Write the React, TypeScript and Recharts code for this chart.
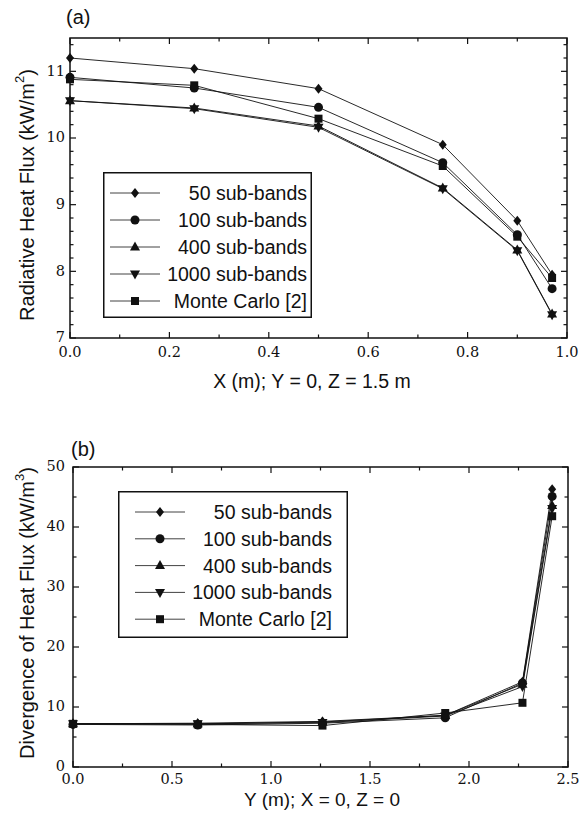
import { LineChart, Line, XAxis, YAxis, ReferenceArea, Legend } from "recharts";

// (a) radiative heat flux along X
const xA = [0, 0.25, 0.5, 0.75, 0.9, 0.97];
const fluxSb50 = [11.2, 11.04, 10.74, 9.9, 8.76, 7.95];
const fluxSb100 = [10.91, 10.75, 10.46, 9.63, 8.55, 7.74];
const fluxSb400 = [10.56, 10.45, 10.18, 9.25, 8.32, 7.36];
const fluxSb1000 = [10.56, 10.44, 10.16, 9.24, 8.31, 7.35];
const fluxMC = [10.88, 10.79, 10.29, 9.58, 8.52, 7.9];

// (b) divergence of heat flux along Y
const yB = [0, 0.63, 1.26, 1.88, 2.27, 2.42];
const divSb50 = [7.2, 7.3, 7.6, 8.6, 14.2, 46.3];
const divSb100 = [7.1, 7.0, 7.3, 8.2, 14.0, 45.1];
const divSb400 = [7.2, 7.2, 7.5, 8.6, 13.8, 43.6];
const divSb1000 = [7.2, 7.2, 7.4, 8.5, 13.4, 43.1];
const divMC = [7.2, 7.1, 6.9, 9.0, 10.7, 41.8];

const seriesNames = ["50 sub-bands", "100 sub-bands", "400 sub-bands", "1000 sub-bands", "Monte Carlo [2]"];
const seriesKeys = ["sb50", "sb100", "sb400", "sb1000", "mc"];
const markerKinds = ["diamond", "circle", "up", "down", "square"];

const xTicksA = [0, 0.1, 0.2, 0.3, 0.4, 0.5, 0.6, 0.7, 0.8, 0.9, 1.0];
const xMajorA = [0, 0.2, 0.4, 0.6, 0.8, 1.0];
const yTicksA = [7, 7.2, 7.4, 7.6, 7.8, 8, 8.2, 8.4, 8.6, 8.8, 9, 9.2, 9.4, 9.6, 9.8, 10, 10.2, 10.4, 10.6, 10.8, 11, 11.2, 11.4];
const yMajorA = [7, 8, 9, 10, 11];
const xTicksB = [0, 0.25, 0.5, 0.75, 1.0, 1.25, 1.5, 1.75, 2.0, 2.25, 2.5];
const xMajorB = [0, 0.5, 1.0, 1.5, 2.0, 2.5];
const yTicksB = [0, 5, 10, 15, 20, 25, 30, 35, 40, 45, 50];
const yMajorB = [0, 10, 20, 30, 40, 50];

const rowsA = xA.map((x, i) => ({
  x,
  sb50: fluxSb50[i],
  sb100: fluxSb100[i],
  sb400: fluxSb400[i],
  sb1000: fluxSb1000[i],
  mc: fluxMC[i],
}));

const rowsB = yB.map((x, i) => ({
  x,
  sb50: divSb50[i],
  sb100: divSb100[i],
  sb400: divSb400[i],
  sb1000: divSb1000[i],
  mc: divMC[i],
}));

const SANS = "'Liberation Sans', Arial, sans-serif";
const SERIF = "'DejaVu Serif', serif";
const INK = "#111";

const isMajor = (list: number[], v: number) => list.some((m) => Math.abs(m - v) < 1e-9);

function Marker({ kind, cx, cy }: { kind: string; cx: number; cy: number }) {
  if (cx == null || cy == null) return null;
  switch (kind) {
    case "diamond":
      return <polygon points={`${cx},${cy - 5} ${cx + 4},${cy} ${cx},${cy + 5} ${cx - 4},${cy}`} fill={INK} />;
    case "circle":
      return <circle cx={cx} cy={cy} r={4.5} fill={INK} />;
    case "up":
      return <polygon points={`${cx},${cy - 5.5} ${cx + 5},${cy + 3.5} ${cx - 5},${cy + 3.5}`} fill={INK} />;
    case "down":
      return <polygon points={`${cx},${cy + 5.5} ${cx + 5},${cy - 3.5} ${cx - 5},${cy - 3.5}`} fill={INK} />;
    default:
      return <rect x={cx - 4} y={cy - 4} width={8} height={8} fill={INK} />;
  }
}

// ticks point inward and are repeated on the opposite side of the frame
function makeXTick(plotH: number, majors: number[], labelDy: number) {
  return (p: any) => {
    const v = p.payload.value;
    const major = isMajor(majors, v);
    const len = major ? 6 : 3.5;
    return (
      <g>
        <line x1={p.x} x2={p.x} y1={p.y} y2={p.y - len} stroke={INK} strokeWidth={1.2} />
        <line x1={p.x} x2={p.x} y1={p.y - plotH} y2={p.y - plotH + len} stroke={INK} strokeWidth={1.2} />
        {major && (
          <text x={p.x} y={p.y + labelDy} textAnchor="middle" fontFamily={SERIF} fontSize={14.5} fill={INK}>
            {v.toFixed(1)}
          </text>
        )}
      </g>
    );
  };
}

function makeYTick(plotW: number, majors: number[], gap: number) {
  return (p: any) => {
    const v = p.payload.value;
    const major = isMajor(majors, v);
    const len = major ? 6 : 3.5;
    return (
      <g>
        <line x1={p.x} x2={p.x + len} y1={p.y} y2={p.y} stroke={INK} strokeWidth={1.2} />
        <line x1={p.x + plotW} x2={p.x + plotW - len} y1={p.y} y2={p.y} stroke={INK} strokeWidth={1.2} />
        {major && (
          <text x={p.x - gap} y={p.y} dy="0.3em" textAnchor="end" fontFamily={SERIF} fontSize={14.5} fill={INK}>
            {String(v)}
          </text>
        )}
      </g>
    );
  };
}

function YTitle({ cx, cy, text, sup }: { cx: number; cy: number; text: string; sup: string }) {
  return (
    <text
      x={cx}
      y={cy}
      transform={`rotate(-90, ${cx}, ${cy})`}
      textAnchor="middle"
      dominantBaseline="central"
      fontFamily={SANS}
      fontSize={20}
      fill={INK}
    >
      {text}
      <tspan dy={-8} fontSize={13}>
        {sup}
      </tspan>
      <tspan dy={8}>)</tspan>
    </text>
  );
}

function LegendBox({
  w,
  h,
  lineX1,
  lineX2,
  textRight,
  rowTop,
  rowGap,
}: {
  w: number;
  h: number;
  lineX1: number;
  lineX2: number;
  textRight: number;
  rowTop: number;
  rowGap: number;
}) {
  const mx = (lineX1 + lineX2) / 2;
  return (
    <svg width={w} height={h} style={{ display: "block" }}>
      <rect x={0.75} y={0.75} width={w - 1.5} height={h - 1.5} fill="#fff" stroke={INK} strokeWidth={1.5} />
      {seriesNames.map((name, i) => {
        const cy = rowTop + i * rowGap;
        return (
          <g key={name}>
            <line x1={lineX1} x2={lineX2} y1={cy} y2={cy} stroke={INK} strokeWidth={0.8} />
            <Marker kind={markerKinds[i]} cx={mx} cy={cy} />
            <text x={textRight} y={cy} dy="0.36em" textAnchor="end" fontFamily={SANS} fontSize={19.5} fill={INK}>
              {name}
            </text>
          </g>
        );
      })}
    </svg>
  );
}

function seriesLines() {
  return seriesKeys.map((key, i) => (
    <Line
      key={key}
      dataKey={key}
      name={seriesNames[i]}
      stroke={INK}
      strokeWidth={0.9}
      isAnimationActive={false}
      activeDot={false}
      dot={(p: any) => <Marker key={`${key}-${p.index}`} kind={markerKinds[i]} cx={p.cx} cy={p.cy} />}
    />
  ));
}

const panelLabel = {
  position: "absolute" as const,
  fontFamily: SANS,
  fontSize: 20,
  lineHeight: "20px",
  color: INK,
};

export default function App() {
  return (
    <div style={{ position: "absolute", left: 0, top: 0, width: 581, height: 821, background: "#fff" }}>
      <div style={{ ...panelLabel, left: 66, top: 7 }}>(a)</div>
      <div style={{ position: "absolute", left: 0, top: 0 }}>
        <LineChart width={581} height={420} data={rowsA} margin={{ top: 38, right: 14, bottom: 22, left: 10 }}>
          <XAxis
            type="number"
            dataKey="x"
            domain={[0, 1]}
            ticks={xTicksA}
            interval={0}
            height={60}
            tickSize={0}
            tickMargin={0}
            tickLine={false}
            axisLine={false}
            tick={makeXTick(300, xMajorA, 19)}
            label={() => (
              <text x={312} y={388} textAnchor="middle" fontFamily={SANS} fontSize={19.5} fill={INK}>
                X (m); Y = 0, Z = 1.5 m
              </text>
            )}
          />
          <YAxis
            type="number"
            domain={[7, 11.5]}
            ticks={yTicksA}
            interval={0}
            width={60}
            tickSize={0}
            tickMargin={0}
            tickLine={false}
            axisLine={false}
            tick={makeYTick(497, yMajorA, 5)}
            label={() => <YTitle cx={27} cy={195} text="Radiative Heat Flux (kW/m" sup="2" />}
          />
          <ReferenceArea x1={0} x2={1} y1={7} y2={11.5} fill="none" stroke={INK} strokeWidth={1.5} />
          {seriesLines()}
          <Legend
            layout="vertical"
            align="center"
            verticalAlign="middle"
            wrapperStyle={{ left: 103, top: 172, width: 209, height: 146 }}
            content={() => (
              <LegendBox w={209} h={146} lineX1={7} lineX2={57} textRight={204} rowTop={21} rowGap={27} />
            )}
          />
        </LineChart>
      </div>

      <div style={{ ...panelLabel, left: 71, top: 439 }}>(b)</div>
      <div style={{ position: "absolute", left: 0, top: 420 }}>
        <LineChart width={581} height={401} data={rowsB} margin={{ top: 47, right: 13, bottom: 10, left: 13 }}>
          <XAxis
            type="number"
            dataKey="x"
            domain={[0, 2.5]}
            ticks={xTicksB}
            interval={0}
            height={44}
            tickSize={0}
            tickMargin={0}
            tickLine={false}
            axisLine={false}
            tick={makeXTick(300, xMajorB, 17)}
            label={() => (
              <text x={322} y={386} textAnchor="middle" fontFamily={SANS} fontSize={19} fill={INK}>
                Y (m); X = 0, Z = 0
              </text>
            )}
          />
          <YAxis
            type="number"
            domain={[0, 50]}
            ticks={yTicksB}
            interval={0}
            width={60}
            tickSize={0}
            tickMargin={0}
            tickLine={false}
            axisLine={false}
            tick={makeYTick(495, yMajorB, 8)}
            label={() => <YTitle cx={27} cy={193} text="Divergence of Heat Flux (kW/m" sup="3" />}
          />
          <ReferenceArea x1={0} x2={2.5} y1={0} y2={50} fill="none" stroke={INK} strokeWidth={1.5} />
          {seriesLines()}
          <Legend
            layout="vertical"
            align="center"
            verticalAlign="middle"
            wrapperStyle={{ left: 118, top: 71, width: 230, height: 147 }}
            content={() => (
              <LegendBox w={230} h={147} lineX1={17} lineX2={67} textRight={214} rowTop={21} rowGap={26.8} />
            )}
          />
        </LineChart>
      </div>
    </div>
  );
}
